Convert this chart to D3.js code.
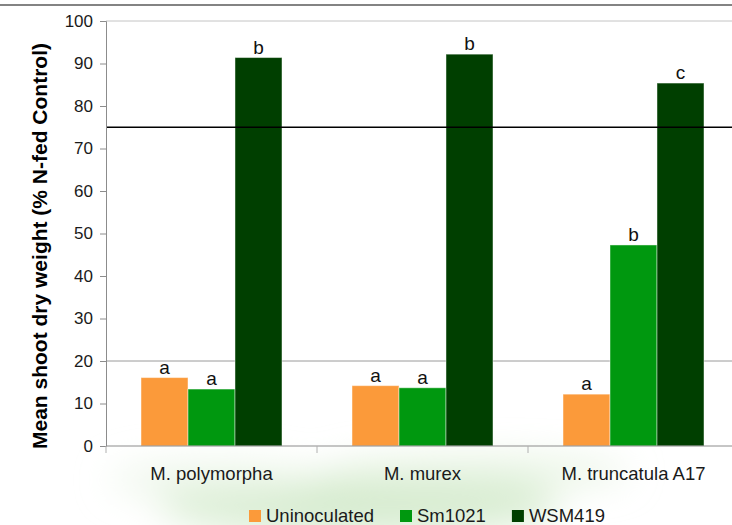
<!DOCTYPE html>
<html>
<head>
<meta charset="utf-8">
<script src="https://cdn.jsdelivr.net/npm/d3@7"></script>
<style>
  body { margin: 0; background: #fff; }
  svg { display: block; font-family: "Liberation Sans", Arial, sans-serif; }
</style>
</head>
<body>
<svg id="chart"></svg>
<script>
// chart data
const categories = ["M. polymorpha", "M. murex", "M. truncatula A17"];
const series = ["Uninoculated", "Sm1021", "WSM419"];
const uninoculated = [16.1, 14.2, 12.2];
const sm1021 = [13.4, 13.7, 47.3];
const wsm419 = [91.4, 92.2, 85.4];
const letters = [["a", "a", "b"], ["a", "a", "b"], ["a", "b", "c"]];
const yTicks = [0, 10, 20, 30, 40, 50, 60, 70, 80, 90, 100];
const refLine = 75;

const colors = ["#fb9a3a", "#00980f", "#003f00"];
const values = [uninoculated, sm1021, wsm419];

let width = 732, height = 525;
var margin = {top: 21, left: 106, bottom: 79};

let svg = d3.select("#chart")
    .attr("width", width)
    .attr("height", height);

// faint green blur at the bottom
let defs = svg.append("defs");
defs.append("filter").attr("id", "blur")
    .attr("x", "-50%").attr("y", "-50%").attr("width", "200%").attr("height", "200%")
    .append("feGaussianBlur").attr("stdDeviation", 18);
let haze = svg.append("g").attr("filter", "url(#blur)");
haze.append("ellipse").attr("cx", 360).attr("cy", 505).attr("rx", 200).attr("ry", 30)
    .attr("fill", "#d3eacb").attr("opacity", 0.9);
haze.append("ellipse").attr("cx", 480).attr("cy", 472).attr("rx", 150).attr("ry", 16)
    .attr("fill", "#e2f1dc").attr("opacity", 0.8);
haze.append("ellipse").attr("cx", 210).attr("cy", 480).attr("rx", 100).attr("ry", 18)
    .attr("fill", "#eaf5e6").attr("opacity", 0.8);

// top rule
svg.append("line")
    .attr("x1", 0).attr("x2", width).attr("y1", 5).attr("y2", 5)
    .attr("stroke", "#5a5a5a").attr("stroke-width", 1.5);

const yScale = d3.scaleLinear()
    .domain([0, 100])
    .range([height - margin.bottom, margin.top]);

const xScale = d3.scaleBand()
    .domain(categories)
    .range([margin.left, 739])
    .paddingInner(0).paddingOuter(0);

const xSub = d3.scaleBand()
    .domain(series)
    .range([0, xScale.bandwidth()])
    .paddingInner(0)
    .paddingOuter(0.745);

// gridlines at 20 and 100
svg.append("line")
    .attr("x1", margin.left).attr("x2", width)
    .attr("y1", yScale(20)).attr("y2", yScale(20))
    .attr("stroke", "#9a9a9a").attr("stroke-width", 1);
svg.append("line")
    .attr("x1", margin.left).attr("x2", width)
    .attr("y1", yScale(100)).attr("y2", yScale(100))
    .attr("stroke", "#c4c4c4").attr("stroke-width", 1);

// bars
series.forEach((s, si) => {
    svg.append("g")
        .selectAll("rect")
        .data(categories)
        .enter()
        .append("rect")
            .attr("x", c => xScale(c) + xSub(s))
            .attr("y", (c, ci) => yScale(values[si][ci]))
            .attr("width", xSub.bandwidth())
            .attr("height", (c, ci) => yScale(0) - yScale(values[si][ci]))
            .attr("fill", colors[si])
            .attr("stroke", "rgba(255,255,255,0.45)")
            .attr("stroke-width", 1);
});

// significance letters
series.forEach((s, si) => {
    svg.append("g")
        .selectAll("text")
        .data(categories)
        .enter()
        .append("text")
            .attr("x", c => xScale(c) + xSub(s) + xSub.bandwidth() / 2)
            .attr("y", (c, ci) => yScale(values[si][ci]) - 4)
            .attr("text-anchor", "middle")
            .style("font-size", "19px")
            .style("fill", "#111")
            .text((c, ci) => letters[ci][si]);
});

// 75% reference line
svg.append("line")
    .attr("x1", margin.left).attr("x2", width)
    .attr("y1", yScale(refLine)).attr("y2", yScale(refLine))
    .attr("stroke", "#000").attr("stroke-width", 1.3);

// y axis
let yAxis = svg.append("g")
    .attr("transform", "translate(" + margin.left + ",0)")
    .call(d3.axisLeft(yScale).tickValues(yTicks).tickSize(6).tickPadding(7));
yAxis.select(".domain").attr("stroke", "#8c8c8c");
yAxis.selectAll(".tick line").attr("stroke", "#8c8c8c");
yAxis.selectAll(".tick text")
    .style("font-size", "17px")
    .style("fill", "#1a1a1a")
    .style("font-family", "Liberation Sans, Arial, sans-serif");

// x axis
let xAxisG = svg.append("g")
    .attr("transform", "translate(0," + yScale(0) + ")");
xAxisG.append("line")
    .attr("x1", margin.left).attr("x2", width)
    .attr("stroke", "#8c8c8c");
xAxisG.selectAll(".sep")
    .data(categories)
    .enter()
    .append("line")
        .attr("x1", c => xScale(c)).attr("x2", c => xScale(c))
        .attr("y1", 0).attr("y2", 7)
        .attr("stroke", "#b0b0b0");
xAxisG.selectAll(".lbl")
    .data(categories)
    .enter()
    .append("text")
        .attr("x", c => xScale(c) + xScale.bandwidth() / 2)
        .attr("y", 34)
        .attr("text-anchor", "middle")
        .style("font-size", "18.5px")
        .style("fill", "#1a1a1a")
        .text(c => c);

// y axis title
svg.append("text")
    .attr("transform", "translate(47," + 246 + ") rotate(-90)")
    .attr("text-anchor", "middle")
    .style("font-size", "21px")
    .style("font-weight", "bold")
    .style("fill", "#000")
    .text("Mean shoot dry weight (% N-fed Control)");

// legend
let legend = svg.append("g").attr("transform", "translate(249,510)");
let lx = 0;
series.forEach((s, si) => {
    legend.append("rect")
        .attr("x", lx).attr("y", 0)
        .attr("width", 12).attr("height", 12)
        .attr("fill", colors[si]);
    let t = legend.append("text")
        .attr("x", lx + 17).attr("y", 12)
        .style("font-size", "18.5px")
        .style("fill", "#1a1a1a")
        .text(s);
    lx += 17 + t.node().getComputedTextLength() + 26;
});
</script>
</body>
</html>
